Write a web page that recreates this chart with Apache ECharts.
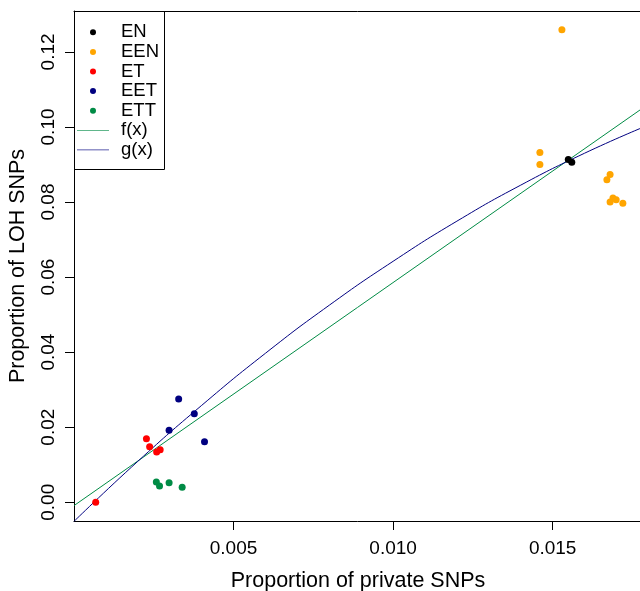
<!DOCTYPE html>
<html><head><meta charset="utf-8">
<script src="https://cdn.jsdelivr.net/npm/echarts@6/dist/echarts.min.js"></script>
<style>html,body{margin:0;padding:0;background:#fff}#c{width:640px;height:591px}</style>
</head><body><div id="c"></div>
<script>
// ---- data ----
const enX = [0.01549, 0.01560];
const enY = [0.0913, 0.0906];
const eenX = [0.01529, 0.01460, 0.01460, 0.01680, 0.01670, 0.01689, 0.01680, 0.01699, 0.01720];
const eenY = [0.1259, 0.0932, 0.0900, 0.0873, 0.0859, 0.0811, 0.0800, 0.0806, 0.0797];
const etX = [0.00068, 0.00227, 0.00237, 0.00259, 0.00270];
const etY = [0.0000, 0.0169, 0.0148, 0.0134, 0.0140];
const eetX = [0.00328, 0.00377, 0.00298, 0.00409];
const eetY = [0.0275, 0.0236, 0.0192, 0.0161];
const ettX = [0.00258, 0.00268, 0.00298, 0.00339];
const ettY = [0.0054, 0.0043, 0.0052, 0.0040];
// fitted curves
const fX = [0, 0.0178];
const fY = [-0.0009, 0.1049];
const gX = [0, 0.002, 0.004, 0.006, 0.008, 0.010, 0.012, 0.014, 0.016, 0.0178];
const gY = [-0.0051, 0.0109, 0.0258, 0.0397, 0.0525, 0.0642, 0.0749, 0.0845, 0.0930, 0.0998];
const xTicks = [0.005, 0.010, 0.015];
const yTicks = [0, 0.02, 0.04, 0.06, 0.08, 0.10, 0.12];
const groupNames = ['EN', 'EEN', 'ET', 'EET', 'ETT'];
const groupColors = ['#000000', '#FFA500', '#FF0000', '#000080', '#008B45'];
const lineNames = ['f(x)', 'g(x)'];
const lineColors = ['#008B45', '#000080'];

const zip = (a, b) => a.map((v, i) => [v, b[i]]);
const groupsX = [enX, eenX, etX, eetX, ettX];
const groupsY = [enY, eenY, etY, eetY, ettY];

const FONT = 'Liberation Sans, Arial, Helvetica, sans-serif';
const chart = echarts.init(document.getElementById('c'), null, {renderer: 'canvas'});

const series = [];
groupNames.forEach((n, i) => {
  series.push({
    name: n, type: 'scatter', symbol: 'circle', symbolSize: 7,
    itemStyle: {color: groupColors[i], opacity: 1},
    data: zip(groupsX[i], groupsY[i]), z: 3
  });
});
series.push({
  name: lineNames[0], type: 'line', showSymbol: false, symbol: 'none',
  lineStyle: {color: lineColors[0], width: 1}, itemStyle: {color: lineColors[0]},
  data: zip(fX, fY), clip: true, z: 2
});
series.push({
  name: lineNames[1], type: 'line', showSymbol: false, symbol: 'none', smooth: true,
  lineStyle: {color: lineColors[1], width: 1}, itemStyle: {color: lineColors[1]},
  data: zip(gX, gY), clip: true, z: 2
});

const LINE_ICON = 'path://M0,0L64,0L64,1.3L0,1.3Z';

chart.setOption({
  animation: false,
  backgroundColor: '#fff',
  textStyle: {fontFamily: FONT, color: '#000'},
  grid: {left: 74, right: -2, top: 11, bottom: 70, containLabel: false, outerBoundsMode: 'none'},
  legend: {
    orient: 'vertical', left: 77, top: 22.5, padding: 0,
    itemWidth: 32, itemHeight: 6, itemGap: 0,
    data: groupNames.map(n => ({name: n, icon: 'circle'})).concat(lineNames.map(n => ({name: n, icon: LINE_ICON}))),
    textStyle: {fontSize: 18.5, lineHeight: 19.6, color: '#000', fontFamily: FONT, padding: [0, 0, 0, 7]},
    selectedMode: false
  },
  graphic: [{
    type: 'rect', shape: {x: 74.5, y: 11.5, width: 90, height: 158},
    style: {fill: 'none', stroke: '#000', lineWidth: 1}, z: 10, silent: true
  }],
  xAxis: [{
    type: 'value', min: 0, max: 0.0178, position: 'bottom',
    axisLine: {show: true, onZero: false, lineStyle: {color: '#000', width: 1}},
    axisTick: {show: true, customValues: xTicks, length: 9, lineStyle: {color: '#000'}},
    axisLabel: {customValues: xTicks, formatter: v => v.toFixed(3), fontSize: 19, color: '#000', margin: 18, fontFamily: FONT},
    splitLine: {show: false},
    name: 'Proportion of private SNPs', nameLocation: 'middle', nameGap: 49,
    nameTextStyle: {fontSize: 21.5, color: '#000', fontFamily: FONT}
  }, {
    type: 'value', min: 0, max: 0.0178, position: 'top',
    axisLine: {show: true, onZero: false, lineStyle: {color: '#000', width: 1}},
    axisTick: {show: false}, axisLabel: {show: false}, splitLine: {show: false}
  }],
  yAxis: {
    type: 'value', min: -0.005, max: 0.1309,
    axisLine: {show: true, onZero: false, lineStyle: {color: '#000', width: 1}},
    axisTick: {show: true, customValues: yTicks, length: 9, lineStyle: {color: '#000'}},
    axisLabel: {customValues: yTicks, formatter: v => v.toFixed(2), rotate: 90, fontSize: 19, color: '#000', margin: 16, fontFamily: FONT},
    splitLine: {show: false},
    name: 'Proportion of LOH SNPs', nameLocation: 'middle', nameGap: 45,
    nameTextStyle: {fontSize: 21.5, color: '#000', fontFamily: FONT}
  },
  series: series
});
</script></body></html>
